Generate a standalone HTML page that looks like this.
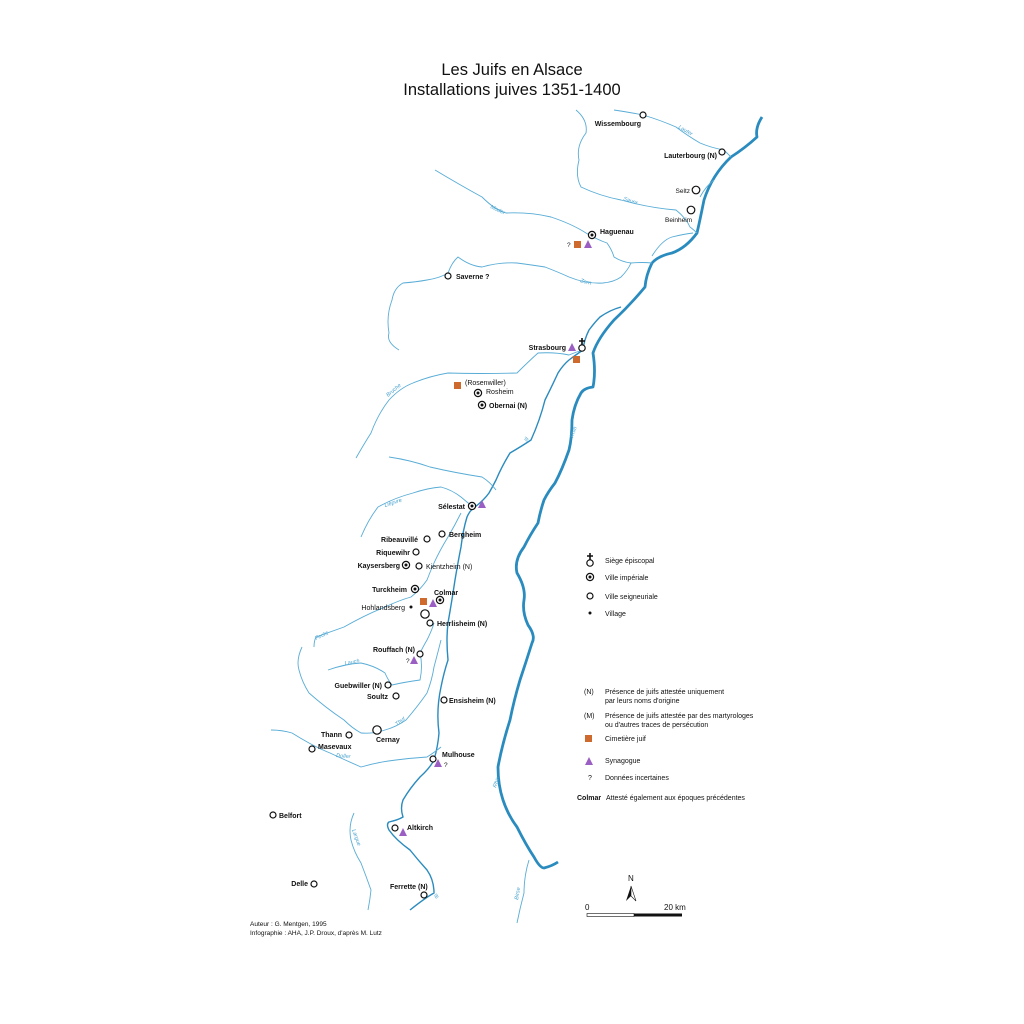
<!DOCTYPE html>
<html><head><meta charset="utf-8"><style>
html,body{margin:0;padding:0;background:#fff;}
svg{display:block;}
text{font-family:"Liberation Sans",sans-serif;fill:#111;}
.b{font-weight:bold;font-size:7px;}
.n{font-size:7px;}
.s{font-size:6.5px;}
.rv{font-size:5.5px;fill:#4aa3cf;font-style:italic;}
.t{fill:none;stroke:#58acd6;stroke-width:0.9;}
.r{fill:none;stroke:#2a8bbe;stroke-width:2.8;stroke-linejoin:round;}
.il{fill:none;stroke:#2a8bbe;stroke-width:1.4;}
.c{fill:#fff;stroke:#111;stroke-width:1.2;}
</style></head><body>
<svg width="1024" height="1024" viewBox="0 0 1024 1024" xmlns="http://www.w3.org/2000/svg">
<rect width="1024" height="1024" fill="#fff"/>
<text x="512" y="75" text-anchor="middle" style="font-size:16.5px">Les Juifs en Alsace</text>
<text x="512" y="95" text-anchor="middle" style="font-size:16.5px">Installations juives 1351-1400</text>

<!-- Rhine -->
<path class="r" d="M762,117 Q755,128 757,137 Q745,148 731,157 Q712,175 704,200 Q700,220 697,233 Q686,248 672,253 Q658,256 652,263 Q646,275 645,287 Q630,305 614,320 Q598,338 593,353 Q596,372 593,387 Q584,388 581,393 Q574,405 572,420 Q572,438 569,450 Q562,470 555,483 Q548,492 544,500 Q540,512 538,523 Q530,535 524,547 Q514,560 517,573 Q526,588 524,600 Q522,612 528,625 Q536,636 532,643 Q526,662 520,680 Q514,700 510,720 Q502,745 498,767 Q498,785 503,800 Q508,815 517,827 Q526,845 534,857 Q540,868 544,868 Q552,866 558,862"/>
<!-- Ill -->
<path class="il" d="M410,910 Q425,898 434,893 Q434,880 427,870 Q418,860 410,850 Q396,840 389,830 Q386,824 389,822 Q398,820 403,817 Q400,808 403,800 Q410,788 420,777 Q430,768 434,760 Q438,746 439,733 Q436,710 441,687 Q444,672 448,660 Q446,640 448,623 Q452,600 455,580 Q458,562 461,547 Q463,530 467,517 Q470,510 475,507 Q484,500 489,493 Q493,486 496,480 Q502,466 510,453 Q522,446 531,440 Q540,420 545,400 Q552,386 558,373 Q563,365 569,360 Q577,354 583,350 Q584,340 589,330 Q595,322 600,317 Q610,310 621,307"/>
<!-- tributaries -->
<g class="t">
<path d="M614,110 Q628,112 643,115 Q660,120 676,127 Q688,136 700,143 Q712,148 724,150 Q728,154 731,157"/>
<path d="M576,110 Q588,120 586,133 Q576,146 579,160 Q575,176 581,187 Q600,196 621,200 Q650,208 676,210 Q686,218 690,227 Q694,230 697,233"/>
<path d="M700,197 Q706,186 714,180"/>
<path d="M435,170 Q460,185 482,197 Q495,210 506,213 Q530,212 551,217 Q572,224 586,233 Q598,240 607,243 Q612,250 614,257 Q622,262 631,263 Q642,262 652,263"/>
<path d="M652,256 Q662,240 672,237 Q684,234 693,233"/>
<path d="M399,350 Q386,342 389,333 Q386,316 392,300 Q394,288 403,283 Q416,282 427,280 Q440,278 448,273 Q452,262 458,257 Q470,266 482,267 Q500,262 517,263 Q532,265 545,267 Q558,272 569,277 Q586,284 603,283 Q614,282 621,277 Q628,270 631,263"/>
<path d="M356,458 Q364,444 371,433 Q378,414 389,400 Q400,388 413,383 Q430,376 448,373 Q480,374 517,373 Q528,362 538,353 Q555,352 569,355 Q576,352 583,350"/>
<path d="M389,457 Q410,460 430,467 Q456,473 482,477 Q490,482 496,490"/>
<path d="M361,537 Q368,520 378,507 Q394,498 413,493 Q428,488 441,487 Q452,490 461,497 Q468,503 472,506"/>
<path d="M314,647 Q314,641 316,637 Q330,632 344,627 Q365,615 385,607 Q400,600 411,597 Q420,590 427,580 Q430,572 434,563 Q440,550 448,537 Q455,525 461,513"/>
<path d="M328,670 Q345,664 361,663 Q375,666 385,673 Q388,680 392,685 Q405,682 420,680 Q423,666 420,653 Q424,645 427,640 Q432,630 434,623"/>
<path d="M302,647 Q296,660 299,670 Q302,682 309,693 Q326,708 344,720 Q352,728 361,733 Q373,734 385,730 Q396,727 406,720 Q418,706 427,693 Q432,680 434,667 Q438,652 441,640"/>
<path d="M271,730 Q282,730 292,733 Q300,738 309,743 Q320,749 330,753 Q345,760 361,767 Q378,762 396,760 Q412,758 427,757 Q435,752 441,747"/>
<path d="M354,813 Q348,826 351,840 Q354,852 361,863 Q366,876 371,890 Q370,900 368,910"/>
<path d="M529,860 Q524,876 524,893 Q520,908 517,923"/>
</g>
<!-- river names -->
<text class="rv" x="678" y="128" transform="rotate(30 678 128)">Lauter</text>
<text class="rv" x="623" y="200" transform="rotate(18 623 200)">Sauer</text>
<text class="rv" x="490" y="208" transform="rotate(25 490 208)">Moder</text>
<text class="rv" x="580" y="282" transform="rotate(15 580 282)">Zorn</text>
<text class="rv" x="388" y="397" transform="rotate(-40 388 397)">Bruche</text>
<text class="rv" x="527" y="442" transform="rotate(-60 527 442)">Ill</text>
<text class="rv" x="573" y="438" transform="rotate(-70 573 438)">Rhin</text>
<text class="rv" x="385" y="507" transform="rotate(-18 385 507)">Lièpvre</text>
<text class="rv" x="316" y="640" transform="rotate(-25 316 640)">Fecht</text>
<text class="rv" x="345" y="665" transform="rotate(-10 345 665)">Lauch</text>
<text class="rv" x="397" y="726" transform="rotate(-40 397 726)">Thur</text>
<text class="rv" x="336" y="757" transform="rotate(5 336 757)">Doller</text>
<text class="rv" x="352" y="830" transform="rotate(70 352 830)">Largue</text>
<text class="rv" x="436" y="899" transform="rotate(-40 436 899)">Ill</text>
<text class="rv" x="496" y="788" transform="rotate(-70 496 788)">Rhin</text>
<text class="rv" x="518" y="900" transform="rotate(-80 518 900)">Birse</text>

<!-- places -->
<circle class="c" cx="643" cy="115" r="3"/><text class="b" x="641" y="126" text-anchor="end">Wissembourg</text>
<circle class="c" cx="722" cy="152" r="3"/><text class="b" x="717" y="158" text-anchor="end">Lauterbourg (N)</text>
<circle class="c" cx="696" cy="190" r="3.8"/><text class="s" x="690" y="193" text-anchor="end">Seltz</text>
<circle class="c" cx="691" cy="210" r="3.8"/><text class="s" x="665" y="222">Beinheim</text>
<circle class="c" cx="592" cy="235" r="3.6"/><circle cx="592" cy="235" r="1.5" fill="#111"/><text class="b" x="600" y="234">Haguenau</text>
<text class="s" x="567" y="247">?</text><rect x="574" y="241" width="7" height="7" fill="#cf6a2f"/><path d="M584,248 L588,240 L592,248 Z" fill="#9b5fc4"/>
<circle class="c" cx="448" cy="276" r="3"/><text class="b" x="456" y="279">Saverne ?</text>
<text class="b" x="566" y="350" text-anchor="end">Strasbourg</text><path d="M568,351 L572,343 L576,351 Z" fill="#9b5fc4"/>
<circle class="c" cx="582" cy="348" r="3.2"/><path d="M582,338 V345 M579,341 H585" stroke="#111" stroke-width="1.6"/>
<rect x="573" y="356" width="7" height="7" fill="#cf6a2f"/>
<rect x="454" y="382" width="7" height="7" fill="#cf6a2f"/><text class="n" x="465" y="385">(Rosenwiller)</text>
<circle class="c" cx="478" cy="393" r="3.6"/><circle cx="478" cy="393" r="1.5" fill="#111"/><text class="n" x="486" y="394">Rosheim</text>
<circle class="c" cx="482" cy="405" r="3.6"/><circle cx="482" cy="405" r="1.5" fill="#111"/><text class="b" x="489" y="408">Obernai (N)</text>
<circle class="c" cx="472" cy="506" r="3.6"/><circle cx="472" cy="506" r="1.5" fill="#111"/><text class="b" x="465" y="509" text-anchor="end">Sélestat</text><path d="M478,508 L482,500 L486,508 Z" fill="#9b5fc4"/>
<circle class="c" cx="442" cy="534" r="3"/><text class="b" x="449" y="537">Bergheim</text>
<circle class="c" cx="427" cy="539" r="3"/><text class="b" x="418" y="542" text-anchor="end">Ribeauvillé</text>
<circle class="c" cx="416" cy="552" r="3"/><text class="b" x="410" y="555" text-anchor="end">Riquewihr</text>
<circle class="c" cx="406" cy="565" r="3.6"/><circle cx="406" cy="565" r="1.5" fill="#111"/><text class="b" x="400" y="568" text-anchor="end">Kaysersberg</text>
<circle class="c" cx="419" cy="566" r="3"/><text class="n" x="426" y="569">Kientzheim (N)</text>
<circle class="c" cx="415" cy="589" r="3.6"/><circle cx="415" cy="589" r="1.5" fill="#111"/><text class="b" x="407" y="592" text-anchor="end">Turckheim</text>
<text class="b" x="434" y="595">Colmar</text><circle class="c" cx="440" cy="600" r="3.6"/><circle cx="440" cy="600" r="1.5" fill="#111"/>
<rect x="420" y="598" width="7" height="7" fill="#cf6a2f"/><path d="M429,607 L433,599 L437,607 Z" fill="#9b5fc4"/>
<text class="n" x="405" y="610" text-anchor="end">Hohlandsberg</text><circle cx="411" cy="607" r="1.5" fill="#111"/>
<circle class="c" cx="425" cy="614" r="4.2"/>
<circle class="c" cx="430" cy="623" r="3"/><text class="b" x="437" y="626">Herrlisheim (N)</text>
<text class="b" x="415" y="652" text-anchor="end">Rouffach (N)</text><circle class="c" cx="420" cy="654" r="3"/>
<text class="s" x="406" y="663">?</text><path d="M410,664 L414,656 L418,664 Z" fill="#9b5fc4"/>
<circle class="c" cx="388" cy="685" r="3"/><text class="b" x="382" y="688" text-anchor="end">Guebwiller (N)</text>
<circle class="c" cx="396" cy="696" r="3"/><text class="b" x="388" y="699" text-anchor="end">Soultz</text>
<circle class="c" cx="444" cy="700" r="3"/><text class="b" x="449" y="703">Ensisheim (N)</text>
<circle class="c" cx="349" cy="735" r="3"/><text class="b" x="342" y="737" text-anchor="end">Thann</text>
<circle class="c" cx="377" cy="730" r="4.2"/><text class="b" x="376" y="742">Cernay</text>
<circle class="c" cx="312" cy="749" r="3"/><text class="b" x="318" y="749">Masevaux</text>
<circle class="c" cx="433" cy="759" r="3"/><text class="b" x="442" y="757">Mulhouse</text>
<path d="M434,767 L438,759 L442,767 Z" fill="#9b5fc4"/><text class="s" x="444" y="767">?</text>
<circle class="c" cx="273" cy="815" r="3"/><text class="b" x="279" y="818">Belfort</text>
<circle class="c" cx="395" cy="828" r="3"/><text class="b" x="407" y="830">Altkirch</text><path d="M399,836 L403,828 L407,836 Z" fill="#9b5fc4"/>
<circle class="c" cx="314" cy="884" r="3"/><text class="b" x="308" y="886" text-anchor="end">Delle</text>
<text class="b" x="390" y="889">Ferrette (N)</text><circle class="c" cx="424" cy="895" r="3"/>

<!-- legend -->
<circle class="c" cx="590" cy="563" r="3.2"/><path d="M590,553 V560 M587,556 H593" stroke="#111" stroke-width="1.6"/>
<text class="n" x="605" y="563">Siège épiscopal</text>
<circle class="c" cx="590" cy="577" r="3.6"/><circle cx="590" cy="577" r="1.5" fill="#111"/><text class="n" x="605" y="580">Ville impériale</text>
<circle class="c" cx="590" cy="596" r="3"/><text class="n" x="605" y="599">Ville seigneuriale</text>
<circle cx="590" cy="613" r="1.5" fill="#111"/><text class="n" x="605" y="616">Village</text>
<text class="n" x="584" y="694">(N)</text><text class="n" x="605" y="694">Présence de juifs attestée uniquement</text><text class="n" x="605" y="703">par leurs noms d'origine</text>
<text class="n" x="584" y="718">(M)</text><text class="n" x="605" y="718">Présence de juifs attestée par des martyrologes</text><text class="n" x="605" y="727">ou d'autres traces de persécution</text>
<rect x="585" y="735" width="7" height="7" fill="#cf6a2f"/><text class="n" x="605" y="741">Cimetière juif</text>
<path d="M585,765 L589,757 L593,765 Z" fill="#9b5fc4"/><text class="n" x="605" y="763">Synagogue</text>
<text class="n" x="588" y="780">?</text><text class="n" x="605" y="780">Données incertaines</text>
<text class="b" x="577" y="800">Colmar</text><text class="n" x="606" y="800">Attesté également aux époques précédentes</text>

<!-- scale -->
<text x="628" y="881" style="font-size:8px">N</text>
<path d="M631,886 L626,901 L631,896 Z" fill="#111"/><path d="M631,886 L636,901 L631,896 Z" fill="none" stroke="#111" stroke-width="0.6"/>
<text x="585" y="910" style="font-size:8px">0</text><text x="664" y="910" style="font-size:8px">20 km</text>
<rect x="587" y="913.5" width="47" height="3" fill="#fff" stroke="#111" stroke-width="0.6"/>
<rect x="634" y="913.5" width="48" height="3" fill="#111"/>

<text class="s" x="250" y="926">Auteur : G. Mentgen, 1995</text>
<text class="s" x="250" y="935">Infographie : AHA, J.P. Droux, d'après M. Lutz</text>
</svg>
</body></html>
